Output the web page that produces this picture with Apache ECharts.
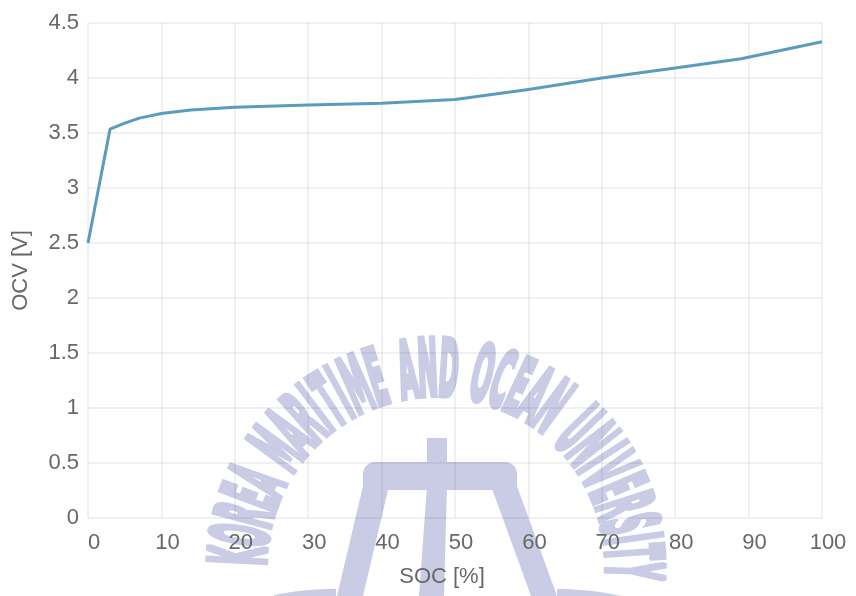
<!DOCTYPE html>
<html>
<head>
<meta charset="utf-8">
<title>OCV vs SOC</title>
<script src="https://cdn.jsdelivr.net/npm/echarts@6/dist/echarts.min.js"></script>
<style>
  html, body { margin: 0; padding: 0; background: #ffffff; }
  #chart { width: 856px; height: 596px; }
</style>
</head>
<body>
<div id="chart"></div>
<script>
// State of charge [%] and open-circuit voltage [V]
const socValues = [0, 3, 5, 7, 10, 14, 20, 30, 40, 50, 60, 70, 80, 89, 100];
const ocvValues = [2.5, 3.535, 3.59, 3.635, 3.678, 3.71, 3.733, 3.755, 3.77, 3.805, 3.895, 4.0, 4.09, 4.175, 4.33];

const xTicks = { min: 0, max: 100, interval: 10 };
const yTicks = { min: 0, max: 4.5, interval: 0.5 };

const xTitle = 'SOC [%]';
const yTitle = 'OCV [V]';
const sealText = 'KOREA MARITIME AND OCEAN UNIVERSITY';

const chart = echarts.init(document.getElementById('chart'), null, { renderer: 'canvas' });

// ---- university seal drawn faintly behind the grid and curve ----
const sealColor = '#caccE6';
const sealCenter = [436, 566];
const sealRadius = 191;
const sealFont = 'bold 78px "DejaVu Sans Condensed", "DejaVu Sans", sans-serif';
const sealScaleX = 0.34;

function sealLetters() {
  const ctx = document.createElement('canvas').getContext('2d');
  ctx.font = sealFont;
  const chars = sealText.split('');
  const widths = chars.map(ch => ch === ' ' ? 14 : ctx.measureText(ch).width * sealScaleX + 3);
  const centers = [];
  let acc = 0;
  widths.forEach(w => { centers.push(acc + w / 2); acc += w; });
  const first = centers[0], last = centers[centers.length - 1];
  const startDeg = 177, endDeg = -1.5;
  const out = [];
  chars.forEach((ch, i) => {
    if (ch === ' ') return;
    const deg = startDeg + (centers[i] - first) / (last - first) * (endDeg - startDeg);
    const th = deg * Math.PI / 180;
    out.push({
      type: 'text',
      z: -10,
      x: sealCenter[0] + sealRadius * Math.cos(th),
      y: sealCenter[1] - sealRadius * Math.sin(th),
      rotation: th - Math.PI / 2,
      scaleX: sealScaleX,
      silent: true,
      style: {
        text: ch,
        font: sealFont,
        fill: sealColor,
        stroke: sealColor,
        lineWidth: 6,
        align: 'center',
        verticalAlign: 'middle'
      }
    });
  });
  return out;
}

function arcPolygon(cx, cy, r, x0, x1, bottom) {
  const pts = [];
  const n = 24;
  for (let i = 0; i <= n; i++) {
    const x = x0 + (x1 - x0) * i / n;
    const dx = x - cx;
    pts.push([x, cy - Math.sqrt(Math.max(r * r - dx * dx, 0))]);
  }
  pts.push([x1, bottom], [x0, bottom]);
  return pts;
}

const sealShapes = [
  // stem and crossbar
  { type: 'rect', shape: { x: 427, y: 438, width: 20, height: 26 } },
  { type: 'rect', shape: { x: 363, y: 462, width: 154, height: 28, r: [12, 12, 0, 0] } },
  // three legs
  { type: 'polygon', shape: { points: [[363, 486], [389, 486], [363, 596], [337, 596]] } },
  { type: 'polygon', shape: { points: [[427, 486], [447, 486], [444, 596], [419, 596]] } },
  { type: 'polygon', shape: { points: [[491, 486], [517, 486], [557, 596], [531, 596]] } },
  // wave arcs at the base
  { type: 'polygon', shape: { points: arcPolygon(334, 889, 300, 274, 336, 600) } },
  { type: 'polygon', shape: { points: arcPolygon(557, 889, 300, 557, 636, 600) } }
].map(el => Object.assign(el, { z: -10, silent: true, style: { fill: sealColor } }));

const labelFont = '"Liberation Sans", Arial, sans-serif';
const textGray = '#686868';
const gridLine = { color: 'rgba(0,0,0,0.075)', width: 1.5 };

chart.setOption({
  animation: false,
  backgroundColor: '#ffffff',
  grid: { left: 88, right: 34, top: 23, bottom: 78, containLabel: false },
  xAxis: {
    type: 'value',
    min: xTicks.min, max: xTicks.max, interval: xTicks.interval,
    name: xTitle,
    nameLocation: 'middle',
    nameGap: 48,
    nameTextStyle: { fontFamily: labelFont, fontSize: 22, color: textGray, padding: [0, 26, 0, 0] },
    axisLine: { show: false },
    axisTick: { show: false },
    axisLabel: { fontFamily: labelFont, fontSize: 22, color: textGray, margin: 14, padding: [0, 0, 0, 12] },
    splitLine: { show: true, lineStyle: gridLine }
  },
  yAxis: {
    type: 'value',
    min: yTicks.min, max: yTicks.max, interval: yTicks.interval,
    name: yTitle,
    nameLocation: 'middle',
    nameGap: 56,
    nameTextStyle: { fontFamily: labelFont, fontSize: 22, color: textGray },
    axisLine: { show: false },
    axisTick: { show: false },
    axisLabel: { fontFamily: labelFont, fontSize: 22, color: textGray, margin: 9 },
    splitLine: { show: true, lineStyle: gridLine }
  },
  graphic: [{
    type: 'group',
    z: -10,
    silent: true,
    children: sealShapes.concat(sealLetters())
  }],
  series: [{
    type: 'line',
    z: 3,
    data: socValues.map((s, i) => [s, ocvValues[i]]),
    showSymbol: false,
    smooth: false,
    lineStyle: { color: '#5b9cbe', width: 3, join: 'round' },
    emphasis: { disabled: true }
  }]
});
</script>
</body>
</html>
